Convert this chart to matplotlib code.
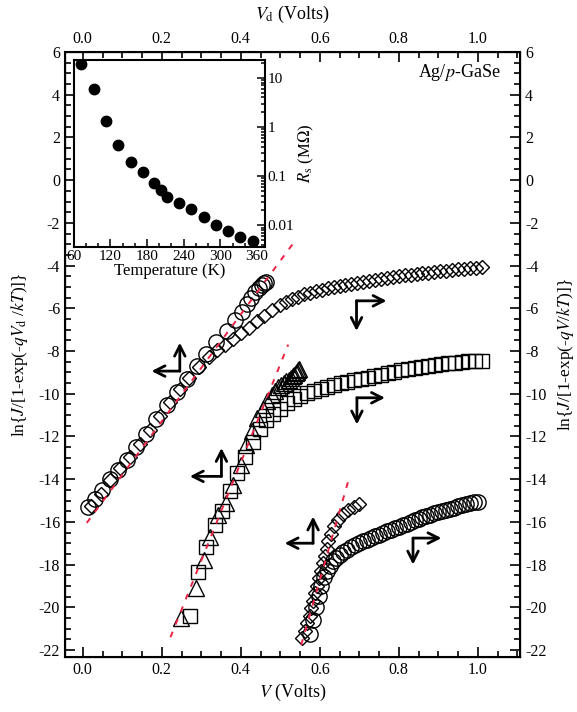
import matplotlib
matplotlib.use("Agg")
import matplotlib.pyplot as plt
from matplotlib.ticker import MultipleLocator

plt.rcParams['font.family'] = ['Liberation Serif', 'DejaVu Serif']
plt.rcParams['mathtext.fontset'] = 'stix'
plt.rcParams['axes.unicode_minus'] = False

# pair 1 : circles vs V_d (left/top), diamonds vs V (right/bottom)
c1_vd = [0.013, 0.030, 0.048, 0.068, 0.090, 0.111, 0.135, 0.160, 0.185, 0.212,
         0.238, 0.263, 0.288, 0.313, 0.338, 0.364, 0.385, 0.402, 0.415, 0.427,
         0.437, 0.446, 0.453, 0.459, 0.465]
c1_y = [-15.30, -14.95, -14.50, -14.00, -13.55, -13.10, -12.50, -11.90, -11.20, -10.55,
        -9.90, -9.30, -8.70, -8.15, -7.60, -7.05, -6.55, -6.15, -5.80, -5.50,
        -5.25, -5.05, -4.92, -4.83, -4.75]
d1_v = [0.02, 0.045, 0.07, 0.095, 0.12, 0.145, 0.17, 0.195, 0.22, 0.245,
        0.27, 0.295, 0.32, 0.34, 0.36, 0.38, 0.40, 0.42, 0.44, 0.46,
        0.48, 0.50, 0.515, 0.53, 0.545, 0.56, 0.575, 0.59, 0.605, 0.62,
        0.635, 0.65, 0.665, 0.68, 0.695, 0.71, 0.725, 0.74, 0.755, 0.77,
        0.785, 0.80, 0.815, 0.83, 0.845, 0.86, 0.875, 0.89, 0.905, 0.92,
        0.935, 0.95, 0.965, 0.98, 0.995, 1.01]
d1_y = [-15.25, -14.7, -14.05, -13.5, -12.95, -12.35, -11.7, -11.05, -10.4, -9.8,
        -9.25, -8.75, -8.3, -7.95, -7.7, -7.45, -7.15, -6.9, -6.6, -6.35,
        -6.1, -5.85, -5.7, -5.55, -5.45, -5.35, -5.27, -5.2, -5.13, -5.07,
        -5.01, -4.95, -4.9, -4.85, -4.8, -4.75, -4.7, -4.66, -4.62, -4.58,
        -4.54, -4.5, -4.46, -4.42, -4.39, -4.36, -4.33, -4.3, -4.27, -4.24,
        -4.21, -4.18, -4.15, -4.12, -4.1, -4.08]

# pair 2 : triangles vs V_d, squares vs V
t2_vd = [0.248, 0.286, 0.307, 0.323, 0.343, 0.363, 0.380, 0.400, 0.414, 0.428,
         0.442, 0.455, 0.467, 0.478, 0.487, 0.495, 0.502, 0.509, 0.515, 0.521,
         0.526, 0.531, 0.535, 0.539, 0.542, 0.545, 0.548]
t2_y = [-20.5, -19.1, -17.8, -16.7, -15.7, -15.1, -14.26, -13.35, -12.4, -11.75,
        -11.15, -10.7, -10.35, -10.05, -9.85, -9.7, -9.6, -9.5, -9.42, -9.34,
        -9.26, -9.18, -9.1, -9.02, -8.96, -8.9, -8.85]
s2_v = [0.271, 0.292, 0.313, 0.334, 0.352, 0.372, 0.390, 0.41, 0.43, 0.448,
        0.465, 0.482, 0.50, 0.517, 0.534, 0.551, 0.568, 0.585, 0.602, 0.619,
        0.636, 0.653, 0.67, 0.687, 0.704, 0.721, 0.738, 0.755, 0.772, 0.789,
        0.806, 0.823, 0.84, 0.857, 0.874, 0.891, 0.908, 0.925, 0.942, 0.959,
        0.976, 0.993, 1.01]
s2_y = [-20.4, -18.35, -17.16, -16.14, -15.5, -14.57, -13.7, -12.95, -12.25, -11.65,
        -11.25, -10.95, -10.7, -10.45, -10.25, -10.1, -9.97, -9.86, -9.77, -9.68,
        -9.6, -9.52, -9.45, -9.38, -9.31, -9.25, -9.19, -9.1, -9.03, -8.97,
        -8.91, -8.85, -8.79, -8.74, -8.68, -8.64, -8.6, -8.57, -8.54, -8.51,
        -8.49, -8.47, -8.45]

# pair 3 : diamonds vs V_d, circles vs V
d3_vd = [0.555, 0.562, 0.568, 0.574, 0.579, 0.584, 0.589, 0.594, 0.598, 0.603,
         0.607, 0.612, 0.617, 0.622, 0.628, 0.636, 0.646, 0.658, 0.672, 0.686, 0.698]
d3_y = [-21.45, -21.1, -20.75, -20.4, -20.05, -19.7, -19.35, -19.0, -18.65, -18.3,
        -17.95, -17.6, -17.25, -16.9, -16.55, -16.2, -15.9, -15.65, -15.45, -15.3, -15.15]
c3_v = [0.575, 0.583, 0.59, 0.597, 0.604, 0.611, 0.618, 0.625, 0.633, 0.641,
        0.65, 0.66, 0.67, 0.68, 0.69, 0.70, 0.71, 0.72, 0.73, 0.74,
        0.75, 0.76, 0.77, 0.78, 0.79, 0.80, 0.81, 0.82, 0.83, 0.84,
        0.85, 0.86, 0.87, 0.88, 0.89, 0.90, 0.91, 0.92, 0.93, 0.94,
        0.95, 0.96, 0.97, 0.98, 0.99, 1.00]
c3_y = [-21.25, -20.6, -20.0, -19.45, -19.0, -18.6, -18.3, -18.05, -17.85, -17.68,
        -17.53, -17.4, -17.3, -17.2, -17.1, -17.0, -16.91, -16.83, -16.75, -16.68,
        -16.6, -16.52, -16.45, -16.38, -16.3, -16.22, -16.15, -16.08, -16.0, -15.93,
        -15.86, -15.79, -15.72, -15.66, -15.6, -15.54, -15.48, -15.43, -15.38, -15.33,
        -15.28, -15.23, -15.18, -15.13, -15.09, -15.05]

# linear fits (end points)
fit_x = [[0.01, 0.535], [0.222, 0.52], [0.553, 0.675]]
fit_y = [[-16.05, -2.9], [-21.4, -7.7], [-21.76, -13.9]]

# inset : series resistance vs temperature
temp_k = [72, 93, 113, 133, 153, 173, 192, 203, 213, 233, 252, 273, 293, 313, 333, 353]
rs_mohm = [19.3, 5.9, 1.35, 0.43, 0.19, 0.119, 0.073, 0.053, 0.038, 0.029,
           0.021, 0.015, 0.0102, 0.0076, 0.0058, 0.0048]

fig = plt.figure(figsize=(5.77, 7.12), dpi=100)
ax = fig.add_axes([0.1127, 0.0772, 0.7886, 0.8497])
ax.set_xlim(-0.045, 1.107)
ax.set_ylim(-22.33, 6.0)

mk = dict(linestyle='none', markerfacecolor='none', markeredgecolor='black', markeredgewidth=1.0)
ax.plot(d1_v, d1_y, marker='D', markersize=7.5, **mk)
ax.plot(c1_vd, c1_y, marker='o', markersize=11, **mk)
ax.plot(s2_v, s2_y, marker='s', markersize=10, **mk)
ax.plot(t2_vd, t2_y, marker='^', markersize=12, **mk)
ax.plot(c3_v, c3_y, marker='o', markersize=11, **mk)
ax.plot(d3_vd, d3_y, marker='D', markersize=7.5, **mk)

for xs, ys in zip(fit_x, fit_y):
    ax.plot(xs, ys, color='#ee2244', linestyle=(0, (3, 4)), lw=1.4)

# L-shaped arrows: corner, horizontal tip, vertical tip
arrows = [((0.2456, -8.94), (0.174, -8.94), (0.2456, -7.61)),
          ((0.693, -5.65), (0.769, -5.65), (0.693, -7.06)),
          ((0.351, -13.87), (0.271, -13.87), (0.351, -12.54)),
          ((0.694, -10.19), (0.765, -10.19), (0.694, -11.44)),
          ((0.583, -17.0), (0.511, -17.0), (0.583, -15.75)),
          ((0.836, -16.76), (0.908, -16.76), (0.836, -18.0))]
for corner, htip, vtip in arrows:
    for tip in (htip, vtip):
        ax.annotate('', xy=tip, xytext=corner,
                    arrowprops=dict(arrowstyle='->, head_length=0.75, head_width=0.38',
                                    lw=2.0, color='black', shrinkA=0, shrinkB=0))

ax.text(1.057, 5.05, r'Ag/$p$-GaSe', ha='right', va='center', fontsize=13)

def style(a):
    a.tick_params(which='both', direction='in', labelsize=11.5, width=1.2)
    a.tick_params(which='major', length=7)
    a.tick_params(which='minor', length=4)

ax.xaxis.set_major_locator(MultipleLocator(0.2))
ax.xaxis.set_minor_locator(MultipleLocator(0.05))
ax.yaxis.set_major_locator(MultipleLocator(2))
ax.yaxis.set_minor_locator(MultipleLocator(0.5))
ax.xaxis.set_major_formatter(lambda v, p: '%.1f' % v)
style(ax)
for s in ax.spines.values():
    s.set_linewidth(1.5)
ax.set_xlabel(r'$V$ (Volts)', fontsize=13, labelpad=3)
ax.set_ylabel(r'ln{$J$/[1-exp(-$qV_{\rm d}$ /$kT$)]}', fontsize=12.5, labelpad=6)

axt = ax.twiny()
axt.set_xlim(ax.get_xlim())
axt.xaxis.set_major_locator(MultipleLocator(0.2))
axt.xaxis.set_minor_locator(MultipleLocator(0.05))
axt.xaxis.set_major_formatter(lambda v, p: '%.1f' % v)
style(axt)
axt.set_xlabel(r'$V_{\rm d}$ (Volts)', fontsize=13, labelpad=9)

axr = ax.twinx()
axr.set_ylim(ax.get_ylim())
axr.yaxis.set_major_locator(MultipleLocator(2))
axr.yaxis.set_minor_locator(MultipleLocator(0.5))
style(axr)
axr.set_ylabel(r'ln{$J$/[1-exp(-$qV$/$kT$)]}', fontsize=12.5, rotation=90, labelpad=6)

# inset
ins = fig.add_axes([0.128, 0.653, 0.331, 0.2626])
ins.plot(temp_k, rs_mohm, 'o', color='black', markersize=7.5)
ins.set_yscale('log')
ins.set_xlim(60, 373)
ins.set_ylim(0.0036, 23)
ins.set_xticks([60, 120, 180, 240, 300, 360])
ins.xaxis.set_minor_locator(MultipleLocator(20))
ins.yaxis.tick_right()
ins.yaxis.set_label_position('right')
ins.set_yticks([0.01, 0.1, 1, 10])
ins.set_yticklabels(['0.01', '0.1', '1', '10'])
ins.tick_params(which='both', direction='in', labelsize=11, width=1.1, pad=2)
ins.tick_params(which='major', length=6)
ins.tick_params(which='minor', length=3)
for s in ins.spines.values():
    s.set_linewidth(1.5)
ins.set_xlabel('Temperature (K)', fontsize=12, labelpad=0)
ins.set_ylabel(r'$R_{\rm s}$ (M$\Omega$)', fontsize=12, labelpad=2)

fig.savefig('out.png', dpi=100)
